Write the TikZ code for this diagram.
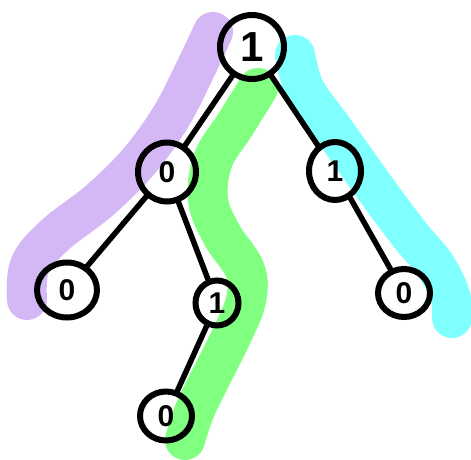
\documentclass[tikz,border=0pt]{standalone}
\usepackage{fontspec}
\newfontfamily\digitfont{Liberation Sans}
\usetikzlibrary{shapes.geometric}
\definecolor{hlpurple}{HTML}{D4B8F5}
\definecolor{hlgreen}{HTML}{80FF80}
\definecolor{hlcyan}{HTML}{80FFFF}
\tikzset{
  hl/.style={line width=40pt, line cap=round, line join=round},
  tnode/.style={ellipse, draw=black, line width=6pt, inner sep=0pt,
    font=\digitfont\bfseries\fontsize{30}{30}\selectfont},
  edge/.style={draw=black, line width=5.5pt, line cap=round}
}
\begin{document}
\begin{tikzpicture}[x=1pt,y=-1pt]
\useasboundingbox (0,0) rectangle (471,460);
% highlights
\draw[hl, hlpurple] plot[smooth, tension=0.6] coordinates
  {(213,32) (195,70) (172,115) (140,160) (100,200) (55,235) (30,265) (27,300)};
\draw[hl, hlgreen] plot[smooth, tension=0.6] coordinates
  {(258,88) (235,125) (213,160) (208,200) (222,235) (245,270) (246,300) (232,335) (212,375) (195,410) (185,440)};
\draw[hl, hlcyan] plot[smooth, tension=0.6] coordinates
  {(295,55) (305,90) (330,125) (355,160) (380,195) (410,235) (435,265) (450,295) (452,318)};
% nodes
\node[tnode, minimum width=64pt, minimum height=64pt, font=\digitfont\bfseries\fontsize{42}{42}\selectfont] (r) at (252,47) {1};
\node[tnode, minimum width=58pt, minimum height=59pt] (a) at (167,172) {0};
\node[tnode, minimum width=52pt, minimum height=58pt] (b) at (335,171) {1};
\node[tnode, minimum width=60pt, minimum height=55pt] (c) at (67,290) {0};
\node[tnode, minimum width=43pt, minimum height=45pt] (d) at (217,303) {1};
\node[tnode, minimum width=52pt, minimum height=49pt] (e) at (166,416) {0};
\node[tnode, minimum width=52pt, minimum height=48pt] (f) at (404,293) {0};
% edges
\draw[edge] (r) -- (a);
\draw[edge] (r) -- (b);
\draw[edge] (a) -- (c);
\draw[edge] (a) -- (d);
\draw[edge] (d) -- (e);
\draw[edge] (b) -- (f);
\end{tikzpicture}
\end{document}
